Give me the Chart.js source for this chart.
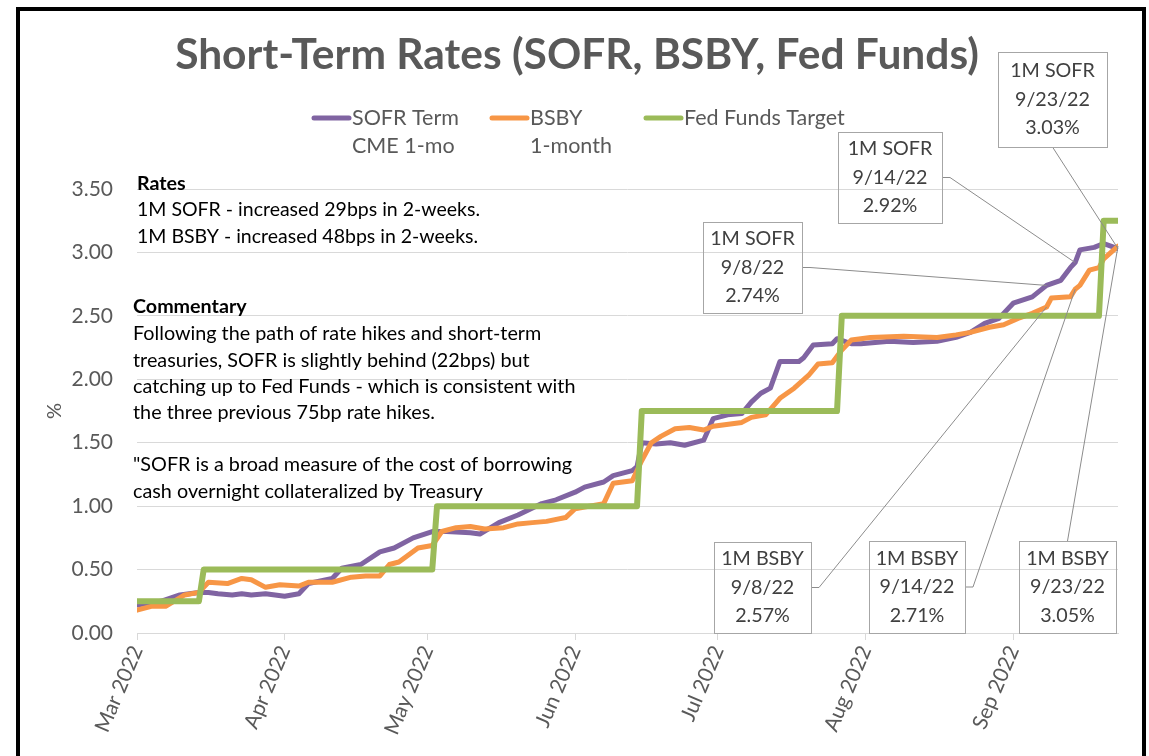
<!DOCTYPE html>
<html><head><meta charset="utf-8">
<script src="https://cdn.jsdelivr.net/npm/chart.js@4/dist/chart.umd.min.js"></script>
<style>html,body{margin:0;padding:0;background:#fff;}canvas{display:block}</style>
</head><body>
<canvas id="c" width="1149" height="756"></canvas>
<script>
// ---------- data ----------
const chartTitle = 'Short-Term Rates (SOFR, BSBY, Fed Funds)';
const seriesNames = ['SOFR Term\nCME 1-mo', 'BSBY\n1-month', 'Fed Funds Target'];
const yAxisLabel = '%';
const axisStart = '2022-03-01';
const axisEnd = '2022-09-23';
const monthTicks = ['2022-03-01','2022-04-01','2022-05-01','2022-06-01','2022-07-01','2022-08-01','2022-09-01'];
const monthLabels = ['Mar 2022','Apr 2022','May 2022','Jun 2022','Jul 2022','Aug 2022','Sep 2022'];
const yTicks = [0, 0.5, 1, 1.5, 2, 2.5, 3, 3.5];

const sofrDates = ['2022-03-01','2022-03-06','2022-03-10','2022-03-14','2022-03-16','2022-03-18','2022-03-21','2022-03-23','2022-03-25','2022-03-28','2022-04-01','2022-04-04','2022-04-06','2022-04-11','2022-04-13','2022-04-17','2022-04-21','2022-04-24','2022-04-28','2022-05-02','2022-05-05','2022-05-10','2022-05-12','2022-05-16','2022-05-20','2022-05-25','2022-05-28','2022-06-01','2022-06-03','2022-06-07','2022-06-09','2022-06-13','2022-06-14','2022-06-15','2022-06-18','2022-06-21','2022-06-24','2022-06-28','2022-06-30','2022-07-03','2022-07-06','2022-07-08','2022-07-10','2022-07-12','2022-07-14','2022-07-18','2022-07-19','2022-07-21','2022-07-25','2022-07-26','2022-07-29','2022-07-31','2022-08-06','2022-08-11','2022-08-16','2022-08-20','2022-08-23','2022-08-26','2022-08-29','2022-09-01','2022-09-05','2022-09-08','2022-09-11','2022-09-13','2022-09-14','2022-09-15','2022-09-18','2022-09-20','2022-09-23'];
const sofrValues = [0.22,0.25,0.30,0.32,0.32,0.31,0.30,0.31,0.30,0.31,0.29,0.31,0.39,0.43,0.51,0.54,0.64,0.67,0.75,0.80,0.80,0.79,0.78,0.87,0.93,1.02,1.05,1.11,1.15,1.19,1.24,1.28,1.31,1.50,1.49,1.50,1.48,1.52,1.69,1.72,1.73,1.82,1.89,1.93,2.14,2.14,2.17,2.27,2.28,2.32,2.28,2.28,2.30,2.29,2.30,2.33,2.37,2.44,2.48,2.60,2.65,2.74,2.78,2.88,2.92,3.02,3.04,3.07,3.03];

const bsbyDates = ['2022-03-01','2022-03-04','2022-03-07','2022-03-11','2022-03-14','2022-03-16','2022-03-20','2022-03-23','2022-03-25','2022-03-28','2022-03-31','2022-04-04','2022-04-06','2022-04-11','2022-04-15','2022-04-18','2022-04-21','2022-04-23','2022-04-25','2022-04-29','2022-05-02','2022-05-04','2022-05-07','2022-05-10','2022-05-13','2022-05-17','2022-05-20','2022-05-23','2022-05-26','2022-05-30','2022-06-01','2022-06-07','2022-06-09','2022-06-13','2022-06-15','2022-06-17','2022-06-19','2022-06-22','2022-06-25','2022-06-28','2022-06-30','2022-07-04','2022-07-06','2022-07-08','2022-07-11','2022-07-14','2022-07-17','2022-07-20','2022-07-22','2022-07-25','2022-07-27','2022-07-29','2022-08-02','2022-08-09','2022-08-16','2022-08-20','2022-08-23','2022-08-27','2022-08-30','2022-09-02','2022-09-05','2022-09-08','2022-09-09','2022-09-13','2022-09-14','2022-09-15','2022-09-17','2022-09-19','2022-09-20','2022-09-23'];
const bsbyValues = [0.18,0.21,0.21,0.30,0.32,0.40,0.39,0.43,0.42,0.36,0.38,0.37,0.40,0.40,0.44,0.45,0.45,0.54,0.56,0.67,0.69,0.80,0.83,0.84,0.82,0.83,0.86,0.87,0.88,0.91,0.98,1.02,1.18,1.20,1.36,1.50,1.55,1.61,1.62,1.60,1.63,1.65,1.66,1.70,1.72,1.85,1.93,2.03,2.12,2.13,2.23,2.31,2.33,2.34,2.33,2.35,2.37,2.41,2.43,2.48,2.52,2.57,2.64,2.65,2.71,2.74,2.86,2.88,2.95,3.05];

const fedDates = ['2022-03-01','2022-03-14','2022-03-15','2022-05-02','2022-05-03','2022-06-14','2022-06-15','2022-07-26','2022-07-27','2022-09-19','2022-09-20','2022-09-23'];
const fedValues = [0.25,0.25,0.50,0.50,1.00,1.00,1.75,1.75,2.50,2.50,3.25,3.25];

const calloutSeries = ['1M SOFR','1M SOFR','1M SOFR','1M BSBY','1M BSBY','1M BSBY'];
const calloutDates = ['2022-09-23','2022-09-14','2022-09-08','2022-09-08','2022-09-14','2022-09-23'];
const calloutValues = [3.03, 2.92, 2.74, 2.57, 2.71, 3.05];

const ratesHeading = 'Rates';
const ratesLines = ['1M SOFR - increased 29bps in 2-weeks.', '1M BSBY - increased 48bps in 2-weeks.'];
const commentHeading = 'Commentary';
const commentLines = ['Following the path of rate hikes and short-term',
  'treasuries, SOFR is slightly behind (22bps) but',
  'catching up to Fed Funds - which is consistent with',
  'the three previous 75bp rate hikes.',
  '',
  '"SOFR is a broad measure of the cost of borrowing',
  'cash overnight collateralized by Treasury'];

// ---------- helpers ----------
const FONT = 'Lato, "Liberation Sans", sans-serif';
const DAY0 = Date.UTC(2022, 2, 1);
const toDay = s => { const [y, m, d] = s.split('-').map(Number); return (Date.UTC(y, m - 1, d) - DAY0) / 864e5; };
const pts = (dates, vals) => dates.map((d, i) => ({ x: toDay(d), y: vals[i] }));
const shortDate = s => { const [y, m, d] = s.split('-').map(Number); return m + '/' + d + '/' + String(y).slice(2); };

// ---------- layout (pixels) ----------
const boxLayout = [
  { x: 998, y: 52, w: 109, h: 95, anchor: 'bottom' },
  { x: 838, y: 132, w: 104, h: 91, anchor: 'right' },
  { x: 703, y: 222, w: 99, h: 91, anchor: 'right' },
  { x: 714, y: 542, w: 97, h: 91, anchor: 'right' },
  { x: 869, y: 541, w: 96, h: 92, anchor: 'right' },
  { x: 1019, y: 541, w: 97, h: 92, anchor: 'top' }
];
const legendLayout = [{ x: 312, tx: 352 }, { x: 490, tx: 530 }, { x: 644, tx: 684 }];

const decor = {
  id: 'decor',
  afterDraw(chart) {
    const c = chart.ctx, xs = chart.scales.x, ys = chart.scales.y;
    c.save();
    // outer border
    c.strokeStyle = '#000'; c.lineWidth = 4;
    c.strokeRect(18, 9, 1126, 800);
    // title
    c.fillStyle = '#595959'; c.textAlign = 'center'; c.textBaseline = 'middle';
    c.font = 'bold 42.5px ' + FONT;
    c.fillText(chartTitle, 577, 55);
    // legend
    chart.data.datasets.forEach((ds, i) => {
      const L = legendLayout[i];
      c.strokeStyle = ds.borderColor; c.lineWidth = 5; c.lineCap = 'round';
      c.beginPath(); c.moveTo(L.x + 2, 118); c.lineTo(L.tx - 3, 118); c.stroke();
      c.fillStyle = '#595959'; c.textAlign = 'left'; c.font = '21.5px ' + FONT;
      ds.label.split('\n').forEach((t, k) => c.fillText(t, L.tx, 118 + k * 28));
    });
    // y axis title
    c.save(); c.translate(55, 411); c.rotate(-Math.PI / 2);
    c.fillStyle = '#595959'; c.textAlign = 'center'; c.font = '20px ' + FONT;
    c.fillText(yAxisLabel, 0, 0); c.restore();
    // annotations text
    c.fillStyle = '#000'; c.textAlign = 'left'; c.textBaseline = 'middle';
    c.font = 'bold 19.7px ' + FONT; c.fillText(ratesHeading, 137, 184);
    c.font = '19.5px ' + FONT;
    ratesLines.forEach((t, k) => c.fillText(t, 137, 210 + k * 26.5));
    c.font = 'bold 19.7px ' + FONT; c.fillText(commentHeading, 133, 307);
    c.font = '19.8px ' + FONT;
    commentLines.forEach((t, k) => c.fillText(t, 133, 334 + k * 26.2));
    // callouts
    calloutSeries.forEach((name, i) => {
      const B = boxLayout[i];
      const px = xs.getPixelForValue(toDay(calloutDates[i]));
      const py = ys.getPixelForValue(calloutValues[i]);
      c.strokeStyle = '#8C8C8C'; c.lineWidth = 1; c.lineCap = 'butt';
      c.beginPath();
      if (B.anchor === 'right') { c.moveTo(B.x + B.w, B.y + B.h / 2); c.lineTo(B.x + B.w + 8, B.y + B.h / 2); }
      else if (B.anchor === 'bottom') { c.moveTo(B.x + B.w / 2, B.y + B.h); }
      else { c.moveTo(B.x + B.w / 2, B.y); }
      c.lineTo(px, py); c.stroke();
      c.strokeStyle = '#A6A6A6';
      c.strokeRect(B.x + 0.5, B.y + 0.5, B.w, B.h);
      c.fillStyle = '#404040'; c.textAlign = 'center'; c.font = '19.7px ' + FONT;
      const lines = [name, shortDate(calloutDates[i]), calloutValues[i].toFixed(2) + '%'];
      lines.forEach((t, k) => c.fillText(t, B.x + B.w / 2, B.y + B.h / 2 + (k - 1) * 28.5));
    });
    c.restore();
  }
};

new Chart(document.getElementById('c').getContext('2d'), {
  type: 'line',
  data: {
    datasets: [
      { label: seriesNames[0], data: pts(sofrDates, sofrValues), borderColor: '#8064A2', borderWidth: 5, order: 2 },
      { label: seriesNames[1], data: pts(bsbyDates, bsbyValues), borderColor: '#F79646', borderWidth: 5, order: 1 },
      { label: seriesNames[2], data: pts(fedDates, fedValues), borderColor: '#9BBB59', borderWidth: 6, order: 0 }
    ]
  },
  options: {
    responsive: false, animation: false, devicePixelRatio: 1,
    elements: { point: { radius: 0, hoverRadius: 0 }, line: { tension: 0, borderCapStyle: 'round', borderJoinStyle: 'round', fill: false } },
    layout: { padding: { left: 0, right: 31, top: 189, bottom: 0 } },
    plugins: { legend: { display: false }, title: { display: false }, tooltip: { enabled: false } },
    scales: {
      x: {
        type: 'linear', min: toDay(axisStart), max: toDay(axisEnd),
        afterBuildTicks: s => { s.ticks = monthTicks.map(d => ({ value: toDay(d) })); },
        afterFit: s => { s.height = 123; },
        ticks: { autoSkip: false, minRotation: 67, maxRotation: 67, color: '#595959', font: { family: FONT, size: 21 }, padding: 2,
          callback: (v, i) => monthLabels[i] },
        grid: { drawOnChartArea: false, drawTicks: true, tickLength: 7, color: '#D9D9D9' },
        border: { display: true, color: '#D9D9D9' }
      },
      y: {
        min: yTicks[0], max: yTicks[yTicks.length - 1],
        afterBuildTicks: s => { s.ticks = yTicks.map(v => ({ value: v })); },
        afterFit: s => { s.width = 137; },
        ticks: { callback: v => Number(v).toFixed(2), color: '#595959', font: { family: FONT, size: 21 }, padding: 24 },
        grid: { color: '#D9D9D9', drawTicks: false },
        border: { display: false }
      }
    }
  },
  plugins: [decor]
});
</script>
</body></html>
